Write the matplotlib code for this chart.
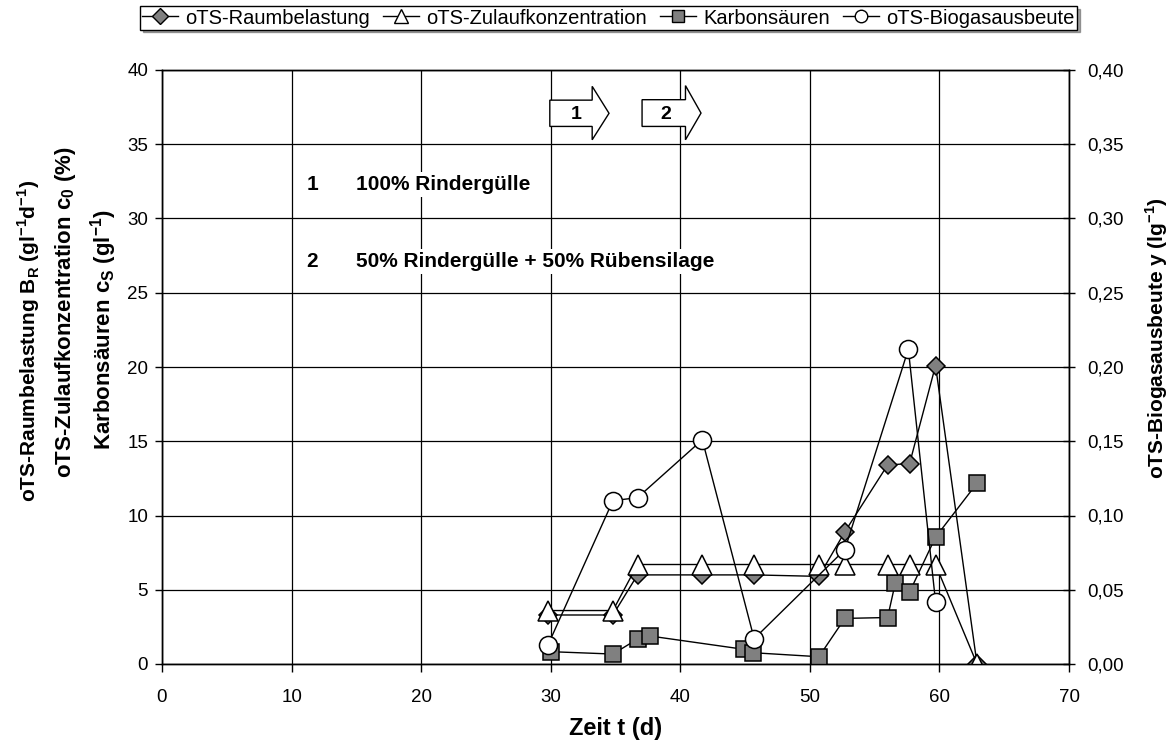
import matplotlib
matplotlib.use("Agg")
import matplotlib.pyplot as plt
from matplotlib.patches import Polygon
from matplotlib.ticker import FuncFormatter, MultipleLocator

plt.rcParams['font.family'] = ['Liberation Sans', 'DejaVu Sans']
plt.rcParams['mathtext.fontset'] = 'custom'
plt.rcParams['mathtext.rm'] = 'Liberation Sans'
plt.rcParams['mathtext.bf'] = 'Liberation Sans:bold'

# ---- data ----
t_load = [29.8, 34.8, 36.7, 41.7, 45.7, 50.7, 52.7, 56.0, 57.7, 59.7, 62.9]
raumbelastung = [3.3, 3.3, 6.0, 6.0, 6.0, 5.9, 8.9, 13.4, 13.5, 20.1, 0.0]
zulaufkonz = [3.6, 3.6, 6.7, 6.7, 6.7, 6.7, 6.7, 6.7, 6.7, 6.7, 0.0]

t_acid = [30.0, 34.8, 36.7, 37.7, 44.9, 45.6, 50.7, 52.7, 56.0, 56.6, 57.7, 59.7, 62.9]
karbonsaeuren = [0.83, 0.67, 1.68, 1.88, 0.99, 0.76, 0.49, 3.07, 3.13, 5.48, 4.85, 8.54, 12.17]

t_gas = [29.8, 34.8, 36.7, 41.7, 45.7, 52.7, 57.6, 59.7]
biogasausbeute = [0.013, 0.110, 0.112, 0.151, 0.017, 0.077, 0.212, 0.042]

legend_labels = ['oTS-Raumbelastung', 'oTS-Zulaufkonzentration', 'Karbonsäuren', 'oTS-Biogasausbeute']

W, H = 1176, 749
fig = plt.figure(figsize=(W / 100, H / 100), dpi=100)
L, R, T, B = 162, 1069, 70, 664
ax = fig.add_axes([L / W, 1 - B / H, (R - L) / W, (B - T) / H])
ax2 = ax.twinx()

ax.set_xlim(0, 70)
ax.set_ylim(0, 40)
ax2.set_ylim(0, 0.40)
ax.xaxis.set_major_locator(MultipleLocator(10))
ax.yaxis.set_major_locator(MultipleLocator(5))
ax2.yaxis.set_major_locator(MultipleLocator(0.05))
ax2.yaxis.set_major_formatter(FuncFormatter(lambda v, p: f"{v:.2f}".replace('.', ',')))

ax.grid(True, color='black', linewidth=0.9)
ax.set_axisbelow(True)
for a in (ax, ax2):
    for s in a.spines.values():
        s.set_color('black')
        s.set_linewidth(1.0)
ax.tick_params(axis='x', labelsize=13.5, direction='out', length=6, width=1, pad=12)
ax.tick_params(axis='y', labelsize=13.5, direction='out', length=5, width=1, pad=5)
ax2.tick_params(axis='y', labelsize=13.5, direction='inout', length=8, width=1, pad=9)

gray = '#808080'
mew = 1.1
l1, = ax.plot(t_load, raumbelastung, color='black', lw=1.0, marker='D', ms=9.5,
              mfc=gray, mec='black', mew=mew, zorder=4)
l2, = ax.plot(t_load, zulaufkonz, color='black', lw=1.0, marker='^', ms=14,
              mfc='white', mec='black', mew=mew, zorder=5)
l3, = ax.plot(t_acid, karbonsaeuren, color='black', lw=1.0, marker='s', ms=12,
              mfc=gray, mec='black', mew=mew, zorder=4)
l4, = ax2.plot(t_gas, biogasausbeute, color='black', lw=1.0, marker='o', ms=13,
               mfc='white', mec='black', mew=mew, zorder=6)
ax2.set_zorder(ax.get_zorder() + 1)
ax2.patch.set_visible(False)

# arrows (data coords of left axis)
def arrow(x0, xh, xt, yb0, yb1, yh0, yh1, label, xl):
    ym = (yb0 + yb1) / 2
    pts = [(x0, yb0), (xh, yb0), (xh, yh0), (xt, ym), (xh, yh1), (xh, yb1), (x0, yb1)]
    ax.add_patch(Polygon(pts, closed=True, facecolor='white', edgecolor='black',
                         lw=1.0, zorder=7))
    ax.text(xl, ym - 0.1, label, ha='center', va='center', fontsize=14,
            fontweight='bold', zorder=8)

arrow(29.93, 33.2, 34.5, 36.2, 37.97, 35.3, 38.9, '1', 32.0)
arrow(37.05, 40.4, 41.6, 36.2, 38.0, 35.3, 38.95, '2', 38.9)

# annotation texts
AS = 15
bb = dict(facecolor='white', edgecolor='none', pad=2)
ax.text(11.6, 32.3, '1', ha='center', va='center', fontsize=AS, fontweight='bold', zorder=8)
ax.text(14.95, 32.3, '100% Rindergülle', ha='left', va='center', fontsize=AS,
        fontweight='bold', bbox=bb, zorder=8)
ax.text(11.6, 27.1, '2', ha='center', va='center', fontsize=AS, fontweight='bold', zorder=8)
ax.text(14.95, 27.1, '50% Rindergülle + 50% Rübensilage', ha='left', va='center',
        fontsize=AS, fontweight='bold', bbox=bb, zorder=8)

# axis labels
fig.text(616 / W, 1 - 728 / H, 'Zeit t (d)', ha='center', va='center',
         fontsize=17, fontweight='bold')
fig.text(29 / W, 1 - 341 / H, r'oTS-Raumbelastung B$_\mathbf{R}$ (gl$^\mathbf{-1}$d$^\mathbf{-1}$)',
         rotation=90, rotation_mode='anchor', ha='center', va='center',
         fontsize=15, fontweight='bold')
fig.text(66 / W, 1 - 312 / H, r'oTS-Zulaufkonzentration c$_\mathbf{0}$ (%)',
         rotation=90, rotation_mode='anchor', ha='center', va='center',
         fontsize=16, fontweight='bold')
fig.text(104 / W, 1 - 330 / H, r'Karbonsäuren c$_\mathbf{S}$ (gl$^\mathbf{-1}$)',
         rotation=90, rotation_mode='anchor', ha='center', va='center',
         fontsize=16, fontweight='bold')
fig.text(1157 / W, 1 - 338 / H, r'oTS-Biogasausbeute y (lg$^\mathbf{-1}$)',
         rotation=90, ha='center', va='center', fontsize=15, fontweight='bold')

# legend
h1, = ax.plot([], [], color='black', lw=1.0, marker='D', ms=8, mfc=gray, mec='black', mew=1)
h2, = ax.plot([], [], color='black', lw=1.0, marker='^', ms=10, mfc='white', mec='black', mew=1)
h3, = ax.plot([], [], color='black', lw=1.0, marker='s', ms=9, mfc=gray, mec='black', mew=1)
h4, = ax.plot([], [], color='black', lw=1.0, marker='o', ms=9, mfc='white', mec='black', mew=1)
leg = fig.legend([h1, h2, h3, h4], legend_labels, loc='center', ncol=4,
                 bbox_to_anchor=((140 + 1077) / 2 / W, 1 - 18 / H),
                 fontsize=14.5, frameon=True, fancybox=False, shadow=True,
                 handlelength=1.8, handletextpad=0.35, columnspacing=0.65,
                 borderpad=0.1, borderaxespad=0)
leg.get_frame().set_edgecolor('black')
leg.get_frame().set_linewidth(1.0)

fig.savefig('out.png', dpi=100)
